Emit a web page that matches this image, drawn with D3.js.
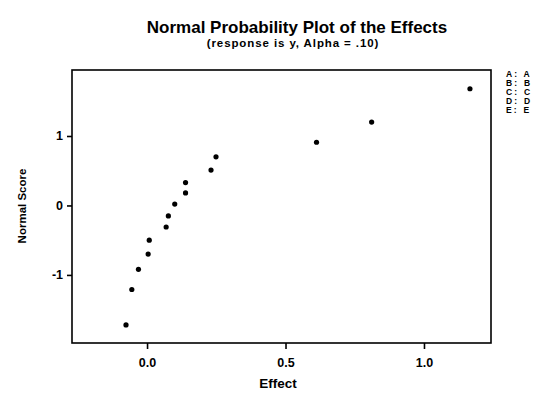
<!DOCTYPE html>
<html lang="en">
  <head>
    <meta charset="utf-8">
    <title>Normal Probability Plot of the Effects</title>
    <script src="https://d3js.org/d3.v7.min.js"></script>
    <style>
      body { margin: 0; background: #fff; }
      text { font-family: "Liberation Sans", Arial, sans-serif; font-weight: bold; fill: #000; }
    </style>
  </head>
  <body>
    <svg id="npp" width="541" height="394"></svg>
    <script type="text/javascript">
      // effects (x) and their normal scores (y)
      var effects = [-0.076, -0.055, -0.031, 0.004, 0.008, 0.069, 0.077, 0.100, 0.139, 0.139, 0.231, 0.249, 0.612, 0.811, 1.166];
      var scores  = [-1.72, -1.21, -0.92, -0.70, -0.50, -0.31, -0.15, 0.02, 0.18, 0.33, 0.51, 0.70, 0.91, 1.20, 1.68];
      var xTicks = [0, 0.5, 1.0];
      var yTicks = [-1, 0, 1];
      var legendItems = ["A: A", "B: B", "C: C", "D: D", "E: E"];

      var svg = d3.select("svg#npp");
      var plotL = 72, plotR = 491, plotT = 70, plotB = 343;

      var xScale = d3.scaleLinear().domain([-0.271, 1.242]).range([plotL, plotR]);
      var yScale = d3.scaleLinear().domain([-1.98, 1.95]).range([plotB, plotT]);

      // title
      svg.append("text").attr("x", 297).attr("y", 33).attr("text-anchor", "middle")
        .style("font-size", "17px").text("Normal Probability Plot of the Effects");
      svg.append("text").attr("x", 293).attr("y", 47).attr("text-anchor", "middle")
        .style("font-size", "11.5px").style("letter-spacing", "0.9px")
        .text("(response is y, Alpha = .10)");

      // frame
      svg.append("rect").attr("x", plotL).attr("y", plotT)
        .attr("width", plotR - plotL).attr("height", plotB - plotT)
        .attr("fill", "none").attr("stroke", "#000").attr("stroke-width", 1.6);

      var xAxis = d3.axisBottom(xScale).tickValues(xTicks).tickFormat(d3.format(".1f"))
        .tickSize(6).tickPadding(7);
      var yAxis = d3.axisLeft(yScale).tickValues(yTicks)
        .tickFormat(function (d) { return d < 0 ? "-" + Math.abs(d) : String(d); })
        .tickSize(5).tickPadding(4);

      var gx = svg.append("g").attr("transform", "translate(0," + plotB + ")").call(xAxis);
      var gy = svg.append("g").attr("transform", "translate(" + plotL + ",0)").call(yAxis);
      [gx, gy].forEach(function (g) {
        g.select(".domain").remove();
        g.selectAll(".tick line").attr("stroke", "#000").attr("stroke-width", 1.6);
        g.selectAll(".tick text").style("font-size", "12.5px")
          .style("font-family", "\"Liberation Sans\", Arial, sans-serif").style("font-weight", "bold");
      });
      gx.selectAll(".tick text").attr("dy", "0.9em");

      svg.append("text").attr("x", 278).attr("y", 388).attr("text-anchor", "middle")
        .style("font-size", "13.5px").text("Effect");
      svg.append("text").attr("transform", "translate(26,206) rotate(-90)")
        .attr("text-anchor", "middle").style("font-size", "11.5px").text("Normal Score");

      // points
      svg.append("g").selectAll("circle").data(effects).enter().append("circle")
        .attr("cx", function (d) { return xScale(d); })
        .attr("cy", function (d, i) { return yScale(scores[i]); })
        .attr("r", 2.6).attr("fill", "#000");

      // legend
      svg.append("g").selectAll("text").data(legendItems).enter().append("text")
        .attr("x", 506).attr("y", function (d, i) { return 77 + i * 9; })
        .style("font-size", "8.5px").style("letter-spacing", "2.2px")
        .text(function (d) { return d; });
    </script>
  </body>
</html>
